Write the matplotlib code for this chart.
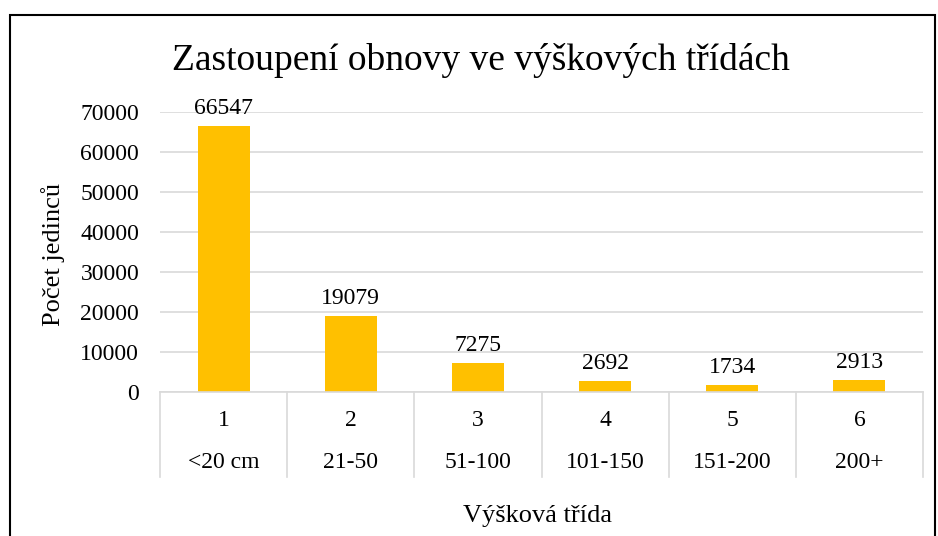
import matplotlib.pyplot as plt
from matplotlib.patches import Rectangle

plt.rcParams['font.family'] = ['Liberation Serif', 'DejaVu Serif']

# Data
class_ids = ['1', '2', '3', '4', '5', '6']
class_ranges = ['<20 cm', '21-50', '51-100', '101-150', '151-200', '200+']
counts = [66547, 19079, 7275, 2692, 1734, 2913]
yticks = [0, 10000, 20000, 30000, 40000, 50000, 60000, 70000]

W, H = 938, 536
fig = plt.figure(figsize=(W / 100, H / 100), dpi=100)

# outer frame of the chart
fig.patches.append(Rectangle((10 / W, -0.01), 925 / W, (H - 15) / H + 0.01,
                             transform=fig.transFigure, fill=False,
                             edgecolor='black', linewidth=1.5))

ax = fig.add_axes([160 / W, (H - 392) / H, (923 - 160) / W, 280 / H])
x = range(len(counts))
ax.bar(x, counts, width=0.41, color='#FFC000', zorder=2)
ax.set_xlim(-0.5, len(counts) - 0.5)
ax.set_ylim(0, 70000)
ax.set_yticks(yticks)
ax.set_yticklabels([str(v) for v in yticks], fontsize=17)
ax.tick_params(axis='y', length=0, pad=15)
ax.tick_params(axis='x', length=0, labelbottom=False)
ax.grid(axis='y', color='#D9D9D9', linewidth=1.2, zorder=0)
for s in ['top', 'right', 'left']:
    ax.spines[s].set_visible(False)
ax.spines['bottom'].set_color('#D9D9D9')
ax.spines['bottom'].set_linewidth(1.2)

for i, v in enumerate(counts):
    ax.annotate(str(v), (i, v), xytext=(0, 5), textcoords='offset points',
                ha='center', va='bottom', fontsize=17, annotation_clip=False)

# two-level category axis
for k in range(len(counts) + 1):
    ax.plot([k - 0.5, k - 0.5], [0, -85 / 280 * 70000], color='#D9D9D9',
            linewidth=1.2, clip_on=False)
for i in x:
    ax.text(i, -28 / 280 * 70000, class_ids[i], ha='center', va='center', fontsize=17)
    ax.text(i, -71 / 280 * 70000, class_ranges[i], ha='center', va='center', fontsize=17)

fig.text(537 / W, 1 - 516 / H, 'Výšková třída', ha='center', va='center', fontsize=19)
fig.text(53 / W, 1 - 254 / H, 'Počet jedinců', ha='center', va='center',
         rotation=90, fontsize=19)
fig.text(481 / W, 1 - 61 / H, 'Zastoupení obnovy ve výškových třídách',
         ha='center', va='center', fontsize=27)

fig.savefig('out.png', dpi=100)
